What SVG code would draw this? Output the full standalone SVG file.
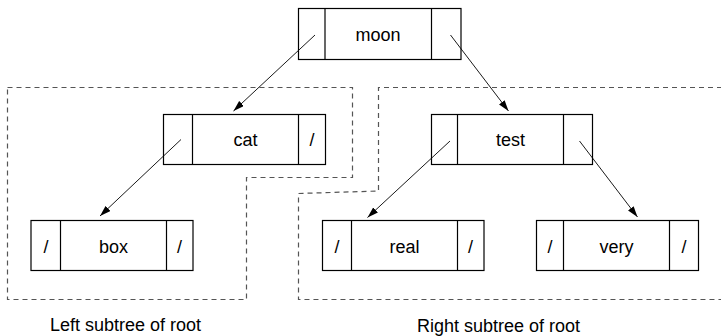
<svg xmlns="http://www.w3.org/2000/svg" width="721" height="336" viewBox="0 0 721 336">
<style>
.cell{fill:#fff;stroke:#000;stroke-width:1.2}
.div{stroke:#000;stroke-width:1.2}
.t{font-family:"Liberation Sans",Arial,sans-serif;font-size:18px;fill:#000;text-anchor:middle}
.region{fill:none;stroke:#555;stroke-width:1.2;stroke-dasharray:5 4}
.edge{stroke:#000;stroke-width:0.9;fill:none;marker-end:url(#ah)}
</style>
<defs>
<marker id="ah" markerUnits="userSpaceOnUse" markerWidth="12" markerHeight="8" refX="11" refY="3.5" orient="auto">
<path d="M0,0 L11,3.5 L0,7 Z" fill="#000"/>
</marker>
</defs>
<rect width="721" height="336" fill="#fff"/>
<g id="regions">
<path class="region" d="M7.5,87.5 H352.5 V177.5 H246.5 V299.5 H7.5 Z"/>
<path class="region" d="M722,87.5 H378.5 V191 L298.5,193.5 V299.5 H722"/>
</g>
<g id="node-moon">
<rect class="cell" x="298.5" y="8.5" width="162.5" height="51"/>
<line class="div" x1="325" y1="8.5" x2="325" y2="59.5"/>
<line class="div" x1="431.5" y1="8.5" x2="431.5" y2="59.5"/>
<text class="t" x="378" y="40.5">moon</text>
</g>
<g id="node-cat">
<rect class="cell" x="163.5" y="114.5" width="162" height="50"/>
<line class="div" x1="192.5" y1="114.5" x2="192.5" y2="164.5"/>
<line class="div" x1="298.5" y1="114.5" x2="298.5" y2="164.5"/>
<text class="t" x="245.5" y="146">cat</text>
<text class="t" x="312" y="146">/</text>
</g>
<g id="node-box">
<rect class="cell" x="31" y="220.5" width="162" height="50"/>
<line class="div" x1="60.5" y1="220.5" x2="60.5" y2="270.5"/>
<line class="div" x1="166.5" y1="220.5" x2="166.5" y2="270.5"/>
<text class="t" x="113.5" y="252.5">box</text>
<text class="t" x="46" y="252.5">/</text>
<text class="t" x="179.5" y="252.5">/</text>
</g>
<g id="node-test">
<rect class="cell" x="431.5" y="114.5" width="161" height="50"/>
<line class="div" x1="457.5" y1="114.5" x2="457.5" y2="164.5"/>
<line class="div" x1="563.5" y1="114.5" x2="563.5" y2="164.5"/>
<text class="t" x="510.5" y="146">test</text>
</g>
<g id="node-real">
<rect class="cell" x="322.5" y="220.5" width="161.5" height="50"/>
<line class="div" x1="351.5" y1="220.5" x2="351.5" y2="270.5"/>
<line class="div" x1="457.5" y1="220.5" x2="457.5" y2="270.5"/>
<text class="t" x="404.5" y="252.5">real</text>
<text class="t" x="337" y="252.5">/</text>
<text class="t" x="470.5" y="252.5">/</text>
</g>
<g id="node-very">
<rect class="cell" x="536.5" y="220.5" width="162" height="50"/>
<line class="div" x1="563.5" y1="220.5" x2="563.5" y2="270.5"/>
<line class="div" x1="669.5" y1="220.5" x2="669.5" y2="270.5"/>
<text class="t" x="616.5" y="252.5">very</text>
<text class="t" x="550" y="252.5">/</text>
<text class="t" x="684" y="252.5">/</text>
</g>
<g id="connectors">
<line class="edge" x1="315" y1="35" x2="233.5" y2="111"/>
<line class="edge" x1="450.5" y1="35" x2="508.5" y2="111"/>
<line class="edge" x1="181" y1="139.5" x2="100" y2="216"/>
<line class="edge" x1="450" y1="141" x2="367.5" y2="217.5"/>
<line class="edge" x1="579.5" y1="141" x2="637.5" y2="217"/>
</g>
<g id="labels">
<text class="t" x="125.5" y="331">Left subtree of root</text>
<text class="t" x="498.5" y="331.5">Right subtree of root</text>
</g>
</svg>
